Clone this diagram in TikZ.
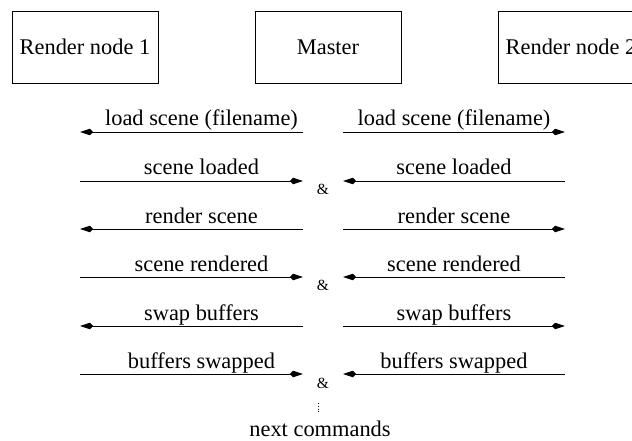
\documentclass[tikz,border=0pt]{standalone}
\usepackage{fontspec}
\setmainfont{Liberation Serif}
\usetikzlibrary{arrows.meta}
\newcommand\bigfont{\rmfamily\fontsize{22.4}{26}\selectfont}
\newcommand\ampfont{\rmfamily\fontsize{15.5}{18}\selectfont}
\tikzset{
  box/.style  = {draw, line width=0.8pt, minimum width=146pt, minimum height=72pt,
                 inner sep=0pt, font=\bigfont},
  msg/.style  = {-{Kite[length=13pt,width=6.5pt,inset=3pt]}, line width=0.8pt},
  lbl/.style  = {anchor=base, yshift=6pt, inner sep=0pt, font=\bigfont},
  lbll/.style = {lbl, xshift=10pt},
  amp/.style  = {inner sep=0pt, font=\ampfont},
  txt/.style  = {anchor=base, inner sep=0pt, font=\bigfont},
  dots/.style = {line width=0.6pt, dash pattern=on 0.8pt off 2pt}
}
\begin{document}
\begin{tikzpicture}[x=1pt,y=-1pt]
  \useasboundingbox (0,0) rectangle (632,441);
  % the three machines
  \node[box] (rn1) at (85,47)  {Render node 1};
  \node[box] (mst) at (328,47) {Master};
  \node[box] (rn2) at (571,47) {Render node 2};
  % message end points, row by row
  \coordinate (a1) at (80,132); \coordinate (b1) at (303,132); \coordinate (c1) at (343,132); \coordinate (d1) at (565,132);
  \coordinate (a2) at (80,181); \coordinate (b2) at (303,181); \coordinate (c2) at (343,181); \coordinate (d2) at (565,181);
  \coordinate (a3) at (80,229); \coordinate (b3) at (303,229); \coordinate (c3) at (343,229); \coordinate (d3) at (565,229);
  \coordinate (a4) at (80,277); \coordinate (b4) at (303,277); \coordinate (c4) at (343,277); \coordinate (d4) at (565,277);
  \coordinate (a5) at (80,326); \coordinate (b5) at (303,326); \coordinate (c5) at (343,326); \coordinate (d5) at (565,326);
  \coordinate (a6) at (80,374); \coordinate (b6) at (303,374); \coordinate (c6) at (343,374); \coordinate (d6) at (565,374);
  % master -> render nodes
  \draw[msg] (b1) -- node[lbll] {load scene (filename)} (a1);
  \draw[msg] (c1) -- node[lbl] {load scene (filename)} (d1);
  \draw[msg] (a2) -- node[lbll] {scene loaded} (b2);
  \draw[msg] (d2) -- node[lbl] {scene loaded} (c2);
  \draw[msg] (b3) -- node[lbll] {render scene} (a3);
  \draw[msg] (c3) -- node[lbl] {render scene} (d3);
  \draw[msg] (a4) -- node[lbll] {scene rendered} (b4);
  \draw[msg] (d4) -- node[lbl] {scene rendered} (c4);
  \draw[msg] (b5) -- node[lbll] {swap buffers} (a5);
  \draw[msg] (c5) -- node[lbl] {swap buffers} (d5);
  \draw[msg] (a6) -- node[lbll] {buffers swapped} (b6);
  \draw[msg] (d6) -- node[lbl] {buffers swapped} (c6);
  % both replies needed
  \node[amp] (and1) at (323,189.5) {\&};
  \node[amp] (and2) at (323,285.5) {\&};
  \node[amp] (and3) at (323,383)   {\&};
  \coordinate (dt1) at (318,403); \coordinate (dt2) at (318,414);
  \draw[dots] (dt1) -- (dt2);
  \node[txt] (nxt) at (320,436) {next commands};
\end{tikzpicture}
\end{document}
